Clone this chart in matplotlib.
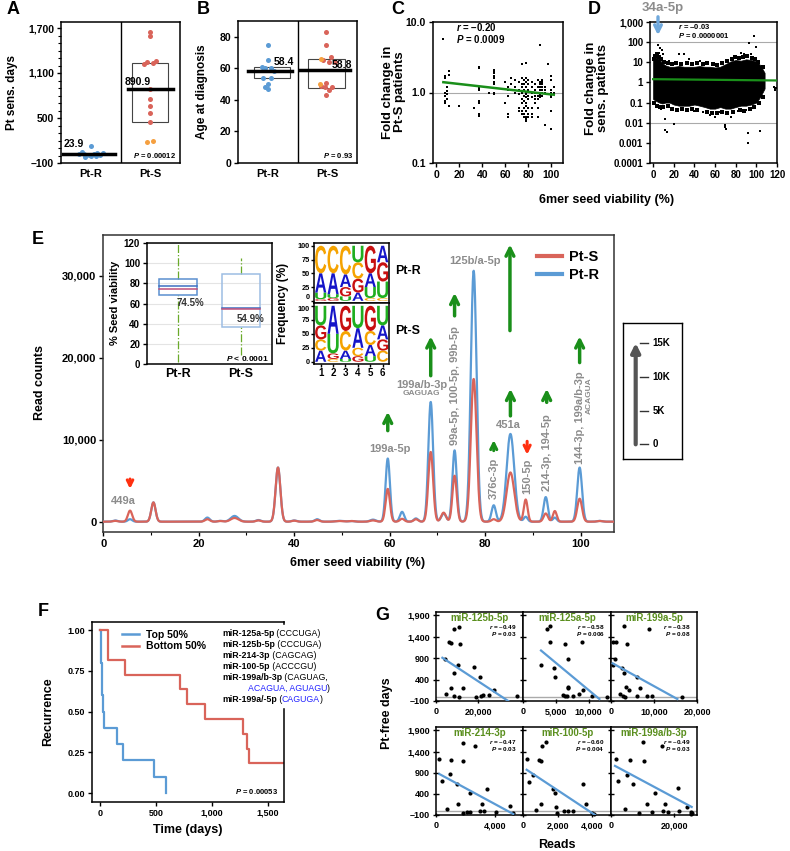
import numpy as np
import matplotlib
matplotlib.use('Agg')
import matplotlib.pyplot as plt
from matplotlib.patches import Rectangle, PathPatch
from matplotlib.lines import Line2D
from matplotlib.textpath import TextPath
from matplotlib.font_manager import FontProperties
from matplotlib.transforms import Affine2D
from matplotlib.ticker import MultipleLocator

plt.rcParams['font.family'] = ['Liberation Sans', 'DejaVu Sans']
plt.rcParams['font.weight'] = 'bold'
plt.rcParams['axes.labelweight'] = 'bold'
plt.rcParams['mathtext.fontset'] = 'custom'
plt.rcParams['mathtext.it'] = 'Liberation Sans:italic:bold'
plt.rcParams['mathtext.rm'] = 'Liberation Sans:bold'
plt.rcParams['axes.unicode_minus'] = False

# ---------------- data ----------------
groups = ['Pt-R', 'Pt-S']

# A: Pt sensitivity (days)
a_res = [130, 45, 35, 20, 15, 10, 5, -5, -15, 30, 25, -10]
a_sens = [1650, 1593, 1260, 1250, 1235, 1220, 887, 749, 660, 567, 451]
a_sens_or = [184, 190]
a_means = [23.9, 890.9]
a_box_s = [451, 1229]
a_p = '0.00012'

# B: age at diagnosis
b_res = [75, 65, 61, 60, 60, 58, 54, 54, 50, 48, 47]
b_sens = [83, 75, 67, 65, 64, 64, 51, 49, 48, 48, 46, 43]
b_sens_or = [66, 50]
b_means = [58.4, 58.8]
b_box_r = [53.6, 60.6]
b_box_s = [47.7, 66.0]
b_p = '0.93'

# C: fold change in Pt-S patients vs seed viability
c_seed = [6, 7, 9, 11, 20, 33, 37, 46, 50, 60, 62, 65, 68, 72, 74, 76, 78, 80, 83, 86, 88, 90, 92, 94, 97, 100, 102]
c_fold = [[5.8], [1.6, 1.7, 1.0, 0.9, 0.7, 0.75], [1.2, 1.05, 0.95, 0.8], [2.0, 1.8, 0.65],
          [0.65], [0.6], [2.3, 2.2, 1.15, 1.1, 0.75, 0.72, 0.5, 0.47], [1.0],
          [2.1, 2.0, 1.9, 1.7, 1.6, 1.4, 1.3, 1.0, 0.95], [1.4, 0.7], [1.2, 1.1, 0.9, 0.5, 0.45],
          [1.6, 1.3], [1.5, 1.2, 1.0], [1.4, 1.1, 0.95, 0.6, 0.55],
          [2.5, 1.6, 1.3, 1.2, 1.0, 0.8, 0.7, 0.55, 0.5], [1.5, 1.3, 1.1, 0.9, 0.75, 0.6, 0.45, 0.5],
          [2.6, 1.6, 1.4, 1.2, 1.0, 0.95, 0.85, 0.7, 0.65, 0.55, 0.45, 0.42, 0.4],
          [1.5, 1.3, 1.1, 0.9, 0.8, 0.6, 0.5, 0.45], [1.4, 1.2, 1.0, 0.85, 0.6, 0.5, 0.45],
          [1.3, 1.1, 1.0, 0.9, 0.8, 0.7], [1.5, 1.2, 0.9, 0.8, 0.6, 0.45],
          [4.7, 1.4, 1.3, 1.2, 1.1, 1.0, 0.95, 0.9, 0.85], [1.5, 1.4, 1.3, 1.2, 1.1, 1.0, 0.9],
          [1.2, 1.1, 1.0, 0.35], [2.5], [1.7, 1.5, 1.1, 1.0, 0.9, 0.85, 0.55, 0.3], [1.2, 1.0, 0.95]]
c_fit_x = [6, 102]
c_fit_y = [1.40, 0.93]

# D: fold change in sensitive patients (all miRNAs): dense band, ragged edges, outliers
d_band_x = [0, 3, 6, 9, 12, 16, 20, 25, 30, 35, 40, 45, 50, 55, 60, 65, 70, 75, 80, 85, 90, 95, 100, 104, 108]
d_band_hi = [12, 18, 14, 9, 7, 6, 6, 6.5, 6, 6, 6, 6.5, 6, 6, 5.5, 6, 8, 11, 13, 12, 14, 13, 11, 7, 3]
d_band_lo = [0.15, 0.12, 0.1, 0.09, 0.1, 0.1, 0.08, 0.07, 0.07, 0.07, 0.08, 0.07, 0.06, 0.05, 0.05, 0.06, 0.05, 0.05,
             0.06, 0.07, 0.07, 0.08, 0.1, 0.2, 0.5]
d_edge_x = [1, 2, 4, 6, 8, 11, 14, 18, 22, 27, 33, 38, 43, 48, 52, 58, 62, 67, 72, 76, 79, 83, 87, 91, 96, 99,
            102, 106, 1, 4, 7, 10, 14, 18, 23, 28, 33, 38, 43, 52, 57, 62, 67, 72, 77, 84, 88, 94, 98, 103, 106]
d_edge_y = [15, 20, 25, 18, 15, 10, 9, 8, 9, 8, 9, 8, 9, 8, 9, 8, 7, 9, 12, 15, 18, 16, 18, 20, 16, 14,
            10, 6, 0.1, 0.07, 0.06, 0.06, 0.07, 0.05, 0.045, 0.05, 0.045, 0.05, 0.045, 0.035, 0.03, 0.03, 0.035,
            0.03, 0.035, 0.045, 0.04, 0.05, 0.06, 0.1, 0.2]
d_out_x = [5, 7, 9, 10, 6, 4, 12, 12, 13, 20, 25, 30, 35, 55, 60, 70, 70, 71, 75, 78, 85, 88, 92, 92, 93, 98, 100,
           104, 117, 118, 119, 118, 3, 8, 40, 48, 65, 82, 90, 15, 45, 80, 95]
d_out_y = [70, 50, 40, 25, 30, 20, 0.015, 0.0045, 0.0035, 0.009, 25, 25, 15, 0.025, 0.02, 0.008, 0.006, 0.005,
           0.02, 0.03, 30, 25, 0.003, 0.001, 90, 200, 60, 0.004, 0.6, 0.45, 0.5, 0.4, 0.06, 0.05, 0.04, 0.035,
           0.035, 0.04, 0.045, 12, 12, 20, 25]
d_fit_x = [0, 120]
d_fit_y = [1.45, 1.25]

# E: read-count profile along seed viability (peak centre, width, Pt-R, Pt-S)
e_peak_x = [2.5, 5.6, 10.5, 21.8, 24.5, 27.5, 32.5, 36.6, 40, 44.8, 49.5, 52, 56.5, 59.6, 62.6, 65.5, 68.6,
            71.3, 73.6, 77.6, 81.8, 85.3, 88.5, 92.7, 94.6, 99.8, 104]
e_peak_w = [0.5, 0.45, 0.45, 0.5, 0.5, 0.8, 0.5, 0.5, 0.5, 0.5, 0.8, 0.6, 0.6, 0.45, 0.45, 0.45, 0.5,
            0.5, 0.45, 0.6, 0.45, 0.8, 0.4, 0.45, 0.4, 0.5, 0.5]
e_ptr = [150, 300, 2350, 500, 100, 700, 200, 6600, 150, 300, 100, 80, 250, 7700, 1200, 400, 14600,
         1000, 8700, 30600, 2000, 10700, 600, 3000, 500, 6600, 100]
e_pts = [100, 1350, 2350, 300, 80, 450, 150, 6600, 120, 200, 80, 80, 150, 4000, 350, 300, 8500,
         1100, 5600, 17400, 300, 6000, 2700, 1000, 1300, 2800, 80]

# E inset: seed viability box plot
e_box_q1 = [68.4, 36.4]
e_box_q3 = [84.3, 89.0]
e_box_med = [74.5, 54.9]
e_box_mean = [77.0, 55.6]
e_whisk_lo = [2, 9]
e_whisk_hi = [119, 105]

# E inset: sequence logos (bottom -> top, frequency %)
logo_r = [[('G', 3), ('U', 12), ('A', 35), ('C', 50)],
          [('G', 5), ('U', 7), ('A', 38), ('C', 50)],
          [('U', 8), ('G', 17), ('A', 23), ('C', 52)],
          [('A', 15), ('G', 25), ('C', 30), ('U', 30)],
          [('C', 5), ('U', 20), ('A', 25), ('G', 50)],
          [('C', 5), ('U', 30), ('G', 35), ('A', 30)]]
logo_s = [[('A', 20), ('C', 20), ('G', 25), ('U', 35)],
          [('C', 5), ('G', 10), ('U', 35), ('A', 50)],
          [('U', 5), ('A', 15), ('C', 35), ('G', 45)],
          [('G', 10), ('C', 15), ('A', 35), ('U', 40)],
          [('U', 10), ('A', 20), ('C', 25), ('G', 45)],
          [('C', 20), ('G', 20), ('A', 25), ('U', 35)]]
scale_ticks = [0, 5, 10, 15]
scale_labels = ['0', '5K', '10K', '15K']

# F: Kaplan-Meier
f_top_t = [0, 6, 21, 30, 39, 149, 208, 482, 586]
f_top_s = [1.0, 0.8, 0.6, 0.5, 0.4, 0.3, 0.2, 0.1, 0.0]
f_bot_t = [0, 74, 223, 714, 780, 937, 1280, 1310, 1333, 1640]
f_bot_s = [1.0, 0.818, 0.727, 0.636, 0.545, 0.455, 0.364, 0.273, 0.182, 0.182]

# G: Pt-free days vs reads
g_titles = ['miR-125b-5p', 'miR-125a-5p', 'miR-199a-5p', 'miR-214-3p', 'miR-100-5p', 'miR-199a/b-3p']
g_r = ['0.49', '0.58', '0.38', '0.47', '0.60', '0.49']
g_p = ['0.03', '0.006', '0.08', '0.03', '0.004', '0.03']
g_x = [[8600, 10600, 5900, 7000, 11300, 4300, 10500, 8400, 18100, 20800, 7100, 12900, 4600, 8600, 11000, 18900,
        21300, 22100, 24900, 27100, 37900],
       [3700, 4100, 4100, 6400, 9000, 2750, 4700, 4900, 6900, 6900, 6800, 6100, 6400, 6700, 7700, 8500, 9100,
        10500, 12800],
       [400, 1200, 3100, 8900, 3800, 900, 400, 2500, 3100, 6000, 3500, 4300, 6700, 2100, 2900, 3300, 6000, 8300,
        9500, 16400],
       [1800, 2650, 230, 1000, 1800, 950, 380, 1450, 2300, 3450, 3150, 770, 1500, 1850, 2100, 2300, 3000, 3250,
        4100, 5000, 5250],
       [1080, 1330, 250, 950, 1030, 560, 370, 1760, 1860, 1040, 750, 1910, 1990, 2380, 2630, 2880, 3460, 3650,
        3980, 4120],
       [10300, 16100, 1500, 6000, 10500, 2300, 5200, 6900, 14000, 11300, 17200, 21200, 4500, 9000, 12900, 16400,
        18000, 21600, 24000, 25300, 25600, 25300]]
g_y = [[1580, 1640, 1270, 1260, 1240, 890, 730, 560, 700, 460, 200, 200, 60, 10, -15, -15, 20, 30, 30, 160, 20],
       [1580, 1660, 1270, 1240, 1270, 740, 680, 460, 890, 220, 200, 40, 20, 20, 20, 60, 160, 10, -15],
       [1270, 1270, 1660, 1580, 1240, 890, 740, 680, 560, 460, 220, 160, 200, 60, 20, -15, 10, 10, 20, -15],
       [1600, 1540, 1220, 1200, 1170, 860, 700, 640, 430, 520, 150, 40, 170, -45, -25, -25, 0, 0, -30, 105, -60],
       [1530, 1620, 1220, 1210, 1180, 850, 690, 510, 420, 170, 30, 90, -45, -10, -10, -10, 640, 170, -45, -75],
       [1620, 1530, 1220, 1200, 1180, 700, 850, 640, 410, 170, 150, 530, 40, -45, -25, 0, -25, -10, 90, -25, -60,
        -75]]
g_line_x = [[3000, 34000], [2750, 11660], [390, 15430], [226, 5243], [213, 4176], [1270, 25610]]
g_line_y = [[910, -100], [1080, -54], [780, -54], [869, -77], [969, -100], [1061, 90]]
g_xmax = [40950, 13430, 20000, 5900, 5100, 27300]
g_xticks = [[0, 20000], [0, 5000, 10000], [0, 10000, 20000], [0, 4000], [0, 2000, 4000], [0, 20000]]

# ---------------- style ----------------
BLUE = '#5b9bd5'
RED = '#d9645a'
ORANGE = '#f5a040'
GREEN = '#1a8f1a'
GRAYTXT = '#8c8c8c'
LOGO_COL = {'A': '#1515c8', 'C': '#f5a300', 'G': '#c81010', 'U': '#1fae1f'}

W, H = 790, 851
fig = plt.figure(figsize=(7.9, 8.51), dpi=100)


def px_axes(x0, y0, x1, y1):
    return fig.add_axes([x0 / W, 1 - y1 / H, (x1 - x0) / W, (y1 - y0) / H])


def fig_text(x, y, s, **kw):
    return fig.text(x / W, 1 - y / H, s, **kw)


def style(ax, size=7.5):
    ax.tick_params(labelsize=size, length=3, width=1, colors='black', pad=2)
    for sp in ax.spines.values():
        sp.set_linewidth(1.1)


def fmt(v):
    return '{:,}'.format(int(v)).replace('-', '\u2013')


# ---------------- A ----------------
jit_a_res = [0.0, -0.15, 0.1, -0.12, 0.05, 0.15, -0.03, 0.08, -0.1, 0.2, -0.2, 0.0]
jit_a_sens = [0.0, 0.0, 0.1, -0.05, 0.04, -0.1, 0.0, 0.0, 0.0, 0.0, 0.0]
ax = px_axes(61, 22, 180, 163)
style(ax)
ax.set_xlim(0, 2)
ax.set_ylim(-100, 1780)
ax.set_yticks([-100, 500, 1100, 1700])
ax.set_yticklabels([fmt(v) for v in [-100, 500, 1100, 1700]])
ax.yaxis.set_minor_locator(MultipleLocator(100))
ax.tick_params(which='minor', length=2, width=0.8)
ax.set_xticks([0.5, 1.5])
ax.set_xticklabels(groups, fontsize=8)
ax.tick_params(axis='x', length=0, pad=4)
ax.axvline(1, color='black', lw=1)
ax.add_patch(Rectangle((1.19, a_box_s[0]), 0.61, a_box_s[1] - a_box_s[0], fill=False, ec='#444', lw=0.8))
ax.scatter(0.5 + np.array(jit_a_res), a_res, s=13, color=BLUE, lw=0, zorder=3)
ax.scatter(1.5 + np.array(jit_a_sens), a_sens, s=13, color=RED, lw=0, zorder=3)
ax.scatter(1.5 + np.array([-0.05, 0.05]), a_sens_or, s=13, color=ORANGE, lw=0, zorder=3)
ax.plot([0.03, 0.91], [a_means[0]] * 2, color='black', lw=2.5, zorder=4)
ax.plot([1.13, 1.88], [a_means[1]] * 2, color='black', lw=2.5, zorder=4)
ax.text(0.22, 150, '%.1f' % a_means[0], ha='center', va='center', fontsize=7.5)
ax.text(1.29, 984, '%.1f' % a_means[1], ha='center', va='center', fontsize=7.5)
ax.text(1.94, -3, '$P$ = ' + a_p, ha='right', va='center', fontsize=5.5)
fig_text(12, 92, 'Pt sens. days', rotation=90, ha='center', va='center', fontsize=8.5)
fig_text(7, 10, 'A', fontsize=13, ha='left', va='center')

# ---------------- B ----------------
jit_b_res = [0.0, 0.0, -0.1, 0.05, -0.05, 0.1, -0.08, 0.05, 0.0, -0.05, 0.0]
jit_b_sens = [0.0, 0.0, 0.08, -0.05, 0.05, 0.15, 0.0, -0.08, 0.1, -0.02, 0.05, 0.0]
ax = px_axes(238, 21, 357, 163)
style(ax)
ax.set_xlim(0, 2)
ax.set_ylim(0, 90)
ax.set_yticks([0, 20, 40, 60, 80])
ax.set_xticks([0.5, 1.5])
ax.set_xticklabels(groups, fontsize=8)
ax.tick_params(axis='x', length=0, pad=4)
ax.axvline(1, color='black', lw=1)
ax.add_patch(Rectangle((0.27, b_box_r[0]), 0.6, b_box_r[1] - b_box_r[0], fill=False, ec='#444', lw=0.8))
ax.add_patch(Rectangle((1.18, b_box_s[0]), 0.62, b_box_s[1] - b_box_s[0], fill=False, ec='#444', lw=0.8))
ax.scatter(0.5 + np.array(jit_b_res), b_res, s=13, color=BLUE, lw=0, zorder=3)
ax.scatter(1.48 + np.array(jit_b_sens), b_sens, s=13, color=RED, lw=0, zorder=3)
ax.scatter(1.48 + np.array([-0.08, -0.1]), b_sens_or, s=13, color=ORANGE, lw=0, zorder=3)
ax.plot([0.17, 0.91], [b_means[0]] * 2, color='black', lw=2.5, zorder=4)
ax.plot([1.04, 1.88], [b_means[1]] * 2, color='black', lw=2.5, zorder=4)
ax.text(0.77, 64, '%.1f' % b_means[0], ha='center', va='center', fontsize=7.5)
ax.text(1.75, 62, '%.1f' % b_means[1], ha='center', va='center', fontsize=7.5)
ax.text(1.94, 5, '$P$ = ' + b_p, ha='right', va='center', fontsize=5.5)
fig_text(202, 92, 'Age at diagnosis', rotation=90, ha='center', va='center', fontsize=8.5)
fig_text(197, 10, 'B', fontsize=13, ha='left', va='center')

# ---------------- C ----------------
c_x = [x for x, vals in zip(c_seed, c_fold) for _ in vals]
c_y = [v for vals in c_fold for v in vals]
ax = px_axes(433, 22, 563, 163)
style(ax)
ax.set_yscale('log')
ax.set_ylim(0.1, 10)
ax.set_xlim(-3, 110)
ax.set_yticks([0.1, 1, 10])
ax.set_yticklabels(['0.1', '1.0', '10.0'])
ax.yaxis.set_minor_locator(matplotlib.ticker.NullLocator())
ax.set_xticks([0, 20, 40, 60, 80, 100])
ax.axhline(1, color='#aaaaaa', lw=0.8)
ax.scatter(c_x, c_y, s=4, marker='s', color='black', lw=0, zorder=3)
ax.plot(c_fit_x, c_fit_y, color=GREEN, lw=1.8, zorder=4)
ax.text(17, 8.6, '$r$ = \u20130.20', ha='left', va='center', fontsize=7)
ax.text(17, 5.8, '$P$ = 0.0009', ha='left', va='center', fontsize=7)
fig_text(394, 92, 'Fold change in\nPt-S patients', rotation=90, ha='center', va='center', fontsize=9.5,
         linespacing=1.0)
fig_text(391, 10, 'C', fontsize=13, ha='left', va='center')

# ---------------- D ----------------
ax = px_axes(650, 22, 777, 163)
style(ax, 7)
ax.set_yscale('log')
ax.set_ylim(1e-4, 1e3)
ax.set_xlim(-3, 120)
d_ticks = [1e-4, 1e-3, 1e-2, 1e-1, 1, 10, 100, 1000]
ax.set_yticks(d_ticks)
ax.set_yticklabels(['0.0001', '0.001', '0.01', '0.1', '1', '10', '100', '1,000'])
ax.yaxis.set_minor_locator(matplotlib.ticker.NullLocator())
ax.set_xticks([0, 20, 40, 60, 80, 100, 120])
ax.axhline(100, color='#aaaaaa', lw=0.8)
ax.axhline(0.01, color='#aaaaaa', lw=0.8)
ax.fill_between(d_band_x, d_band_lo, d_band_hi, color='black', lw=0.5, zorder=2)
ax.scatter(d_edge_x, d_edge_y, s=5, marker='s', color='black', lw=0, zorder=3)
ax.scatter(d_out_x, d_out_y, s=3, marker='s', color='black', lw=0, zorder=3)
ax.plot(d_fit_x, d_fit_y, color=GREEN, lw=1.6, zorder=4)
ax.text(24, 620, '$r$ = \u20130.03', ha='left', va='center', fontsize=5.5)
ax.text(24, 220, '$P$ = 0.0000001', ha='left', va='center', fontsize=5.5)
fig_text(663, 8, '34a-5p', color=GRAYTXT, fontsize=9.5, ha='center', va='center')
ax.annotate('', xy=(658 / W, 1 - 38 / H), xytext=(658 / W, 1 - 14 / H), xycoords='figure fraction',
            textcoords='figure fraction',
            arrowprops=dict(arrowstyle='->', color='#6fa8dc', lw=2.4, mutation_scale=12), annotation_clip=False)
fig_text(597, 88, 'Fold change in\nsens. patients', rotation=90, ha='center', va='center', fontsize=9.5,
         linespacing=1.0)
fig_text(588, 10, 'D', fontsize=13, ha='left', va='center')
fig_text(607, 200, '6mer seed viability (%)', ha='center', va='center', fontsize=9)

# ---------------- E ----------------
grid = np.linspace(0, 107, 3000)
curve_r = np.zeros_like(grid)
curve_s = np.zeros_like(grid)
for x0, w, hr, hs in zip(e_peak_x, e_peak_w, e_ptr, e_pts):
    k = np.exp(-0.5 * ((grid - x0) / w) ** 2)
    curve_r += hr * k
    curve_s += hs * k

axE = px_axes(103.3, 235, 614, 532)
style(axE, 8)
axE.set_xlim(0, 107)
axE.set_ylim(-1260, 34960)
axE.set_xticks([0, 20, 40, 60, 80, 100])
axE.xaxis.set_minor_locator(MultipleLocator(10))
axE.tick_params(which='minor', length=2, width=0.8)
axE.set_yticks([0, 10000, 20000, 30000])
axE.set_yticklabels(['0', '10,000', '20,000', '30,000'])
for sp in axE.spines.values():
    sp.set_color('#333333')
axE.plot(grid, curve_r, color=BLUE, lw=1.6, label='Pt-R', zorder=3)
axE.plot(grid, curve_s, color=RED, lw=1.6, label='Pt-S', zorder=4)
axE.legend(handles=[Line2D([], [], color=RED, lw=3, label='Pt-S'), Line2D([], [], color=BLUE, lw=3, label='Pt-R')],
           loc='upper left', bbox_to_anchor=(0.835, 0.975), frameon=False, fontsize=10.5, handlelength=1.7,
           handletextpad=0.5, labelspacing=0.3, borderpad=0)


def arrow(x, y0, y1, color=GREEN, lw=2.5, ms=14):
    axE.annotate('', xy=(x, y1), xytext=(x, y0),
                 arrowprops=dict(arrowstyle='->', color=color, lw=lw, mutation_scale=ms, shrinkA=0, shrinkB=0))


lab = dict(color=GRAYTXT, fontsize=8)
axE.text(4.1, 2560, '449a', ha='center', va='center', **lab)
arrow(5.6, 5200, 4000, color='#ff3010', lw=2.2, ms=10)
axE.text(60.0, 8900, '199a-5p', ha='center', va='center', **lab)
arrow(59.6, 11100, 13400)
axE.text(66.7, 16670, '199a/b-3p', ha='center', va='center', **lab)
axE.text(66.7, 15570, 'GAGUAG', ha='center', va='center', color=GRAYTXT, fontsize=6)
arrow(68.6, 17800, 22600)
axE.text(73.6, 9300, '99a-5p, 100-5p, 99b-5p', rotation=90, ha='center', va='bottom', **lab)
arrow(73.6, 25100, 27900)
axE.text(77.8, 31830, '125b/a-5p', ha='center', va='center', **lab)
arrow(85.2, 23300, 33800)
axE.text(84.8, 11790, '451a', ha='center', va='center', **lab)
arrow(85.3, 12900, 16200)
axE.text(81.8, 2760, '376c-3p', rotation=90, ha='center', va='bottom', **lab)
arrow(81.8, 8660, 9950, lw=2.2, ms=11)
axE.text(88.8, 3370, '150-5p', rotation=90, ha='center', va='bottom', **lab)
arrow(88.8, 9800, 8170, color='#ff3010', lw=2.2, ms=11)
axE.text(92.9, 3780, '214-3p, 194-5p', rotation=90, ha='center', va='bottom', **lab)
arrow(92.9, 14550, 16200)
axE.text(99.8, 7030, '144-3p, 199a/b-3p', rotation=90, ha='center', va='bottom', **lab)
axE.text(101.9, 13130, 'ACAGUA', rotation=90, ha='center', va='bottom', color=GRAYTXT, fontsize=6)
arrow(99.8, 19400, 22600)
fig_text(40, 383, 'Read counts', rotation=90, ha='center', va='center', fontsize=9)
fig_text(358, 563, '6mer seed viability (%)', ha='center', va='center', fontsize=9)
fig_text(32, 240, 'E', fontsize=13, ha='left', va='center')

# E inset: box plot
axB = px_axes(147, 243, 272, 364)
style(axB, 7)
axB.set_xlim(0, 2)
axB.set_ylim(0, 120)
axB.set_yticks(range(0, 121, 20))
axB.set_xticks([0.5, 1.5])
axB.set_xticklabels(groups, fontsize=9)
axB.tick_params(axis='x', length=0, pad=3)
axB.grid(axis='y', color='#e4e4e4', lw=0.8)
axB.set_axisbelow(True)
box_ec = ['#5b8fd0', '#9dbde3']
for i in range(2):
    c = 0.5 + i
    axB.add_patch(Rectangle((c - 0.305, e_box_q1[i]), 0.61, e_box_q3[i] - e_box_q1[i], fill=False,
                            ec=box_ec[i], lw=1.1, zorder=3))
    axB.plot([c - 0.305, c + 0.305], [e_box_mean[i]] * 2, color='#3f6fc0', lw=1.1, zorder=4)
    axB.plot([c - 0.305, c + 0.305], [e_box_med[i]] * 2, color='#c0507a', lw=1.1, zorder=4)
    axB.plot([c, c], [e_box_q3[i], e_whisk_hi[i]], color='#6aaa2a', lw=0.9, ls='-.', zorder=2)
    axB.plot([c, c], [e_whisk_lo[i], e_box_q1[i]], color='#6aaa2a', lw=0.9, ls='-.', zorder=2)
axB.text(0.69, 60, '%.1f%%' % e_box_med[0], ha='center', va='center', fontsize=7, color='#333333')
axB.text(1.66, 45, '%.1f%%' % e_box_med[1], ha='center', va='center', fontsize=7, color='#333333')
axB.text(1.94, 5, '$P$ < 0.0001', ha='right', va='center', fontsize=6)
fig_text(115, 303, '% Seed viability', rotation=90, ha='center', va='center', fontsize=8)

# E inset: sequence logos
LOGO_FP = FontProperties(family='Liberation Sans', weight='bold')


def draw_logo(ax, cols):
    for pos, stack in enumerate(cols, start=1):
        y0 = 0
        for ch, f in stack:
            tp = TextPath((0, 0), ch, size=1, prop=LOGO_FP)
            bb = tp.get_extents()
            tr = Affine2D().translate(-bb.x0, -bb.y0).scale(0.9 / bb.width, f / bb.height).translate(pos - 0.45, y0)
            ax.add_patch(PathPatch(tr.transform_path(tp), color=LOGO_COL[ch], lw=0))
            y0 += f


for k, (cols, y0, y1, name) in enumerate([(logo_r, 243, 303, 'Pt-R'), (logo_s, 303, 364, 'Pt-S')]):
    axL = px_axes(314, y0, 389, y1)
    style(axL, 5.3)
    axL.set_xlim(0.46, 6.51)
    axL.set_ylim(-4, 105)
    axL.set_yticks([0, 25, 50, 75, 100])
    axL.tick_params(length=2, pad=1)
    ylabs = axL.get_yticklabels()
    if k == 0:
        ylabs[0].set_va('bottom')
    else:
        ylabs[-1].set_va('top')
    axL.set_xticks(range(1, 7))
    if k == 0:
        axL.set_xticklabels([])
        axL.tick_params(axis='x', length=0)
    else:
        axL.tick_params(axis='x', labelsize=7)
    draw_logo(axL, cols)
    fig_text(395, (y0 + y1) / 2 - 2, name, ha='left', va='center', fontsize=9)
fig_text(283, 303, 'Frequency (%)', rotation=90, ha='center', va='center', fontsize=8.5)

# E: scale arrow box
axS = px_axes(623, 323, 682, 459)
axS.set_xlim(0, 1)
axS.set_ylim(-2.17, 17.96)
axS.set_xticks([])
axS.set_yticks([])
for sp in axS.spines.values():
    sp.set_linewidth(1.0)
axS.annotate('', xy=(0.215, 15.0), xytext=(0.215, 0),
             arrowprops=dict(arrowstyle='-|>', color='#555555', lw=3, mutation_scale=13, shrinkA=0, shrinkB=0))
for v, s in zip(scale_ticks, scale_labels):
    axS.plot([0.29, 0.42], [v, v], color='#333333', lw=1)
    axS.text(0.5, v, s, ha='left', va='center', fontsize=7)

# ---------------- F ----------------
axF = px_axes(92, 622, 284, 802)
style(axF, 6.5)
axF.set_xlim(-71, 1643)
axF.set_ylim(-0.055, 1.05)
axF.set_xticks([0, 500, 1000, 1500])
axF.set_xticklabels(['0', '500', '1,000', '1,500'])
axF.set_yticks([0, 0.25, 0.5, 0.75, 1.0])
axF.set_yticklabels(['0.00', '0.25', '0.50', '0.75', '1.00'])
axF.step(f_top_t, f_top_s, where='post', color=BLUE, lw=1.6)
axF.step(f_bot_t, f_bot_s, where='post', color=RED, lw=1.6)
axF.legend(handles=[Line2D([], [], color=BLUE, lw=1.8, label='Top 50%'),
                    Line2D([], [], color=RED, lw=1.8, label='Bottom 50%')],
           loc='upper left', bbox_to_anchor=(0.13, 0.985), frameon=False, fontsize=7.5, handlelength=1.6,
           handletextpad=0.7, labelspacing=0.15, borderpad=0)
axF.text(0.97, 0.06, '$P$ = 0.00053', transform=axF.transAxes, ha='right', va='center', fontsize=5.5)
axF.add_patch(Rectangle((219 / W, 1 - 707 / H), 118 / W, 82 / H, transform=fig.transFigure, color='white',
                        clip_on=False, zorder=5))

mir_lines = [
    [('miR-125a-5p', 'black', 'bold'), (' (CCCUGA)', 'black', 'normal')],
    [('miR-125b-5p', 'black', 'bold'), (' (CCCUGA)', 'black', 'normal')],
    [('miR-214-3p', 'black', 'bold'), (' (CAGCAG)', 'black', 'normal')],
    [('miR-100-5p', 'black', 'bold'), (' (ACCCGU)', 'black', 'normal')],
    [('miR-199a/b-3p', 'black', 'bold'), (' (CAGUAG,', 'black', 'normal')],
    [('ACAGUA, AGUAGU', '#2424ff', 'normal'), (')', 'black', 'normal')],
    [('miR-199a/-5p', 'black', 'bold'), (' (', 'black', 'normal'), ('CAGUGA', '#2424ff', 'normal'),
     (')', 'black', 'normal')],
]
for i, parts in enumerate(mir_lines):
    x0 = 248 if i == 5 else 222
    y0 = 638 + 11 * i
    prev = axF.annotate(parts[0][0], xy=(x0 / W, 1 - y0 / H), xycoords='figure fraction', color=parts[0][1],
                        fontweight=parts[0][2], fontsize=6.3, va='bottom', ha='left', zorder=6,
                        annotation_clip=False)
    for s, c, w in parts[1:]:
        prev = axF.annotate(s, xy=(1, 0), xycoords=prev, color=c, fontweight=w, fontsize=6.3, va='bottom',
                            ha='left', zorder=6, annotation_clip=False)
fig_text(48, 712, 'Recurrence', rotation=90, ha='center', va='center', fontsize=9)
fig_text(188, 830, 'Time (days)', ha='center', va='center', fontsize=9)
fig_text(38, 612, 'F', fontsize=13, ha='left', va='center')

# ---------------- G ----------------
cols = [(436, 523), (523, 611), (611, 697)]
rows = [(612, 701), (727, 815)]
for k in range(6):
    r, c = divmod(k, 3)
    ax = px_axes(cols[c][0], rows[r][0], cols[c][1], rows[r][1])
    style(ax, 6.5)
    ax.set_xlim(0, g_xmax[k])
    ax.set_ylim(-100, 1980)
    ax.set_yticks([-100, 400, 900, 1400, 1900])
    if c == 0:
        ax.set_yticklabels([fmt(v) for v in [-100, 400, 900, 1400, 1900]])
    else:
        ax.set_yticklabels([])
    ax.tick_params(axis='y', direction='inout', length=5)
    ax.tick_params(axis='x', direction='inout', length=3, pad=3)
    ax.set_xticks(g_xticks[k])
    ax.set_xticklabels([fmt(v) for v in g_xticks[k]])
    ax.axhline(0, color='#aaaaaa', lw=1)
    ax.scatter(g_x[k], g_y[k], s=9, color='black', lw=0, zorder=3, clip_on=False)
    ax.plot(g_line_x[k], g_line_y[k], color=BLUE, lw=1.6, zorder=4)
    ax.text(0.5, 0.935, g_titles[k], transform=ax.transAxes, ha='center', va='center', fontsize=7,
            color='#5a8f1e')
    ax.text(0.93, 0.835, '$r$ = \u2013' + g_r[k], transform=ax.transAxes, ha='right', va='center', fontsize=4.6)
    ax.text(0.93, 0.75, '$P$ = ' + g_p[k], transform=ax.transAxes, ha='right', va='center', fontsize=4.6)
fig_text(387, 713, 'Pt-free days', rotation=90, ha='center', va='center', fontsize=9)
fig_text(557, 845, 'Reads', ha='center', va='center', fontsize=9)
fig_text(375, 616, 'G', fontsize=13, ha='left', va='center')

fig.savefig('out.png', dpi=100)
